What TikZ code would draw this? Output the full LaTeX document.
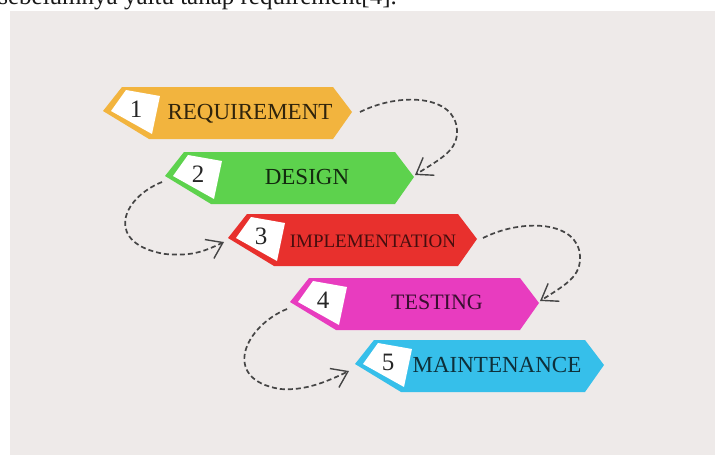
\documentclass[tikz,border=0pt]{standalone}
\usepackage{fontspec}
\setmainfont{Liberation Serif}
\usetikzlibrary{arrows.meta,calc}
\definecolor{bgc}{HTML}{EEEAE9}
\definecolor{cor}{HTML}{F2B43E}
\definecolor{cgr}{HTML}{5DD24D}
\definecolor{cre}{HTML}{E8302D}
\definecolor{cma}{HTML}{E83CBF}
\definecolor{ccy}{HTML}{36BFEA}
\definecolor{arr}{HTML}{454545}
\tikzset{
  numlabel/.style={inner sep=0pt, font=\fontsize{25}{25}\selectfont, text=black!85},
  banner/.style={inner sep=0pt, text height=15pt, text depth=0pt},
  flow/.style={draw=arr, line width=1.7pt, dash pattern=on 5pt off 3pt,
    -{Straight Barb[length=15pt,width=21pt,line width=1.4pt]}}
}
\newcommand{\ribbonshape}[4]{% #1 name, #2 tip coordinate, #3 colour, #4 number
  \coordinate (#1L) at #2;
  \fill[#3] (#1L) -- ++(19,-24) -- ++(211,0) -- ++(19,25) -- ++(-19,27) -- ++(-184,0) -- cycle;
  \coordinate (#1R) at ($(#1L)+(249,1)$);
  \fill[white] ($(#1L)+(8,0)$) -- ++(15,-21) -- ++(34,6) -- ++(-8,38) -- cycle;
  \node[numlabel] (#1n) at ($(#1L)+(33,-2)$) {#4};
}
\begin{document}
\begin{tikzpicture}[x=1pt,y=-1pt]
\useasboundingbox (0,0) rectangle (715,455);
\fill[white] (0,0) rectangle (715,455);
\fill[bgc] (10,11) rectangle (715,455);
\node[anchor=base east, inner sep=0pt, font=\fontsize{25}{25}\selectfont, text=black!90] (topline) at (397,5) {sebelumnya yaitu tahap requirement[4].};

\ribbonshape{a}{(103,111)}{cor}{1}
\ribbonshape{b}{(165,176)}{cgr}{2}
\ribbonshape{c}{(228,238)}{cre}{3}
\ribbonshape{d}{(290,302)}{cma}{4}
\ribbonshape{e}{(355,364)}{ccy}{5}

\node[banner, font=\fontsize{23}{23}\selectfont, text=black!80!cor] (ta) at (250,112) {REQUIREMENT};
\node[banner, font=\fontsize{23}{23}\selectfont, text=black!80!cgr] (tb) at (307,177) {DESIGN};
\node[banner, font=\fontsize{19}{19}\selectfont, text=black!70!cre] (tc) at (373,240) {IMPLEMENTATION};
\node[banner, font=\fontsize{22}{22}\selectfont, text=black!75!cma] (td) at (437,302) {TESTING};
\node[banner, font=\fontsize{23}{23}\selectfont, text=black!75!ccy] (te) at (497,365) {MAINTENANCE};

\draw[flow] ($(aR)+(8,0)$) .. controls +(40,-20) and +(-2,-35) .. ++(97,18)
  .. controls +(1,20) and +(27,-17) .. ($(bR)+(1,-2)$);
\draw[flow] ($(cR)+(6,-1)$) .. controls +(40,-20) and +(-2,-35) .. ++(97,18)
  .. controls +(1,20) and +(27,-17) .. ($(dR)+(1,-2)$);
\draw[flow] ($(bL)+(-3,6)$) .. controls +(-42,17) and +(-60,-10) .. ++(3,72)
  .. controls +(25,2) and +(-23,11) .. ($(cL)+(-4,4)$);
\draw[flow] ($(dL)+(-3,7)$) .. controls +(-42,17) and +(-60,-10) .. ++(-7,80)
  .. controls +(25,2) and +(-23,11) .. ($(eL)+(-6,7)$);
\end{tikzpicture}
\end{document}
